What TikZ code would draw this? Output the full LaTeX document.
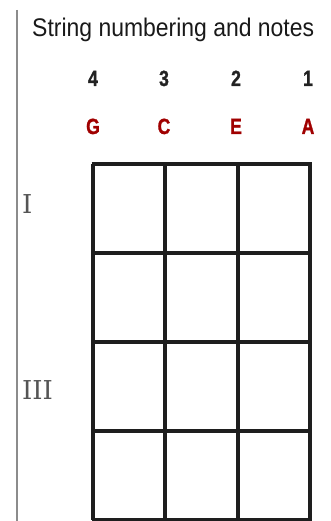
\documentclass[tikz,border=0pt]{standalone}
\usepackage{fontspec}
\newfontfamily\titlefont{Liberation Sans}[FakeStretch=0.9]
\newfontfamily\condbold{Liberation Sans}[FakeStretch=0.8,FakeBold=1.2]
\newfontfamily\slabfont{DejaVu Serif}
\definecolor{gridc}{HTML}{1E1E1E}
\definecolor{numc}{HTML}{222222}
\definecolor{notec}{HTML}{A00000}
\definecolor{romc}{HTML}{555555}
\begin{document}
\begin{tikzpicture}[x=1pt,y=-1pt,
  gridline/.style={draw=gridc,line width=3.1pt},
  numlbl/.style={font=\condbold\bfseries\fontsize{22}{22}\selectfont,text=numc,inner sep=0pt,anchor=base},
  notelbl/.style={font=\condbold\bfseries\fontsize{22}{22}\selectfont,text=notec,inner sep=0pt,anchor=base},
  romlbl/.style={font=\slabfont\fontsize{26}{26}\selectfont,text=romc,inner sep=0pt,anchor=base west}]
\useasboundingbox (0,0) rectangle (331,521);
\draw[draw=gray!90,line width=1.6pt] (17,10) coordinate (vtop) -- (17,521) coordinate (vbot);
\node[font=\titlefont\fontsize{25.5}{25.5}\selectfont,text=black!90,anchor=base west,inner sep=0pt] (title) at (32,37) {String numbering and notes};
\foreach \n/\x/\note in {4/93/G,3/164/C,2/236/E,1/308/A}{
  \node[numlbl] (num\n) at (\x,86) {\n};
  \node[notelbl] (note\n) at (\x,134) {\note};
}
\foreach \y in {164,253,342,431,520}{
  \draw[gridline] (91.5,\y) -- (311.5,\y);
}
\foreach \x in {93,165,238,310}{
  \draw[gridline] (\x,164) -- (\x,520);
}
\node[romlbl] (rI) at (22,213) {I};
\node[romlbl] (rIII) at (22,399) {III};
\end{tikzpicture}
\end{document}
